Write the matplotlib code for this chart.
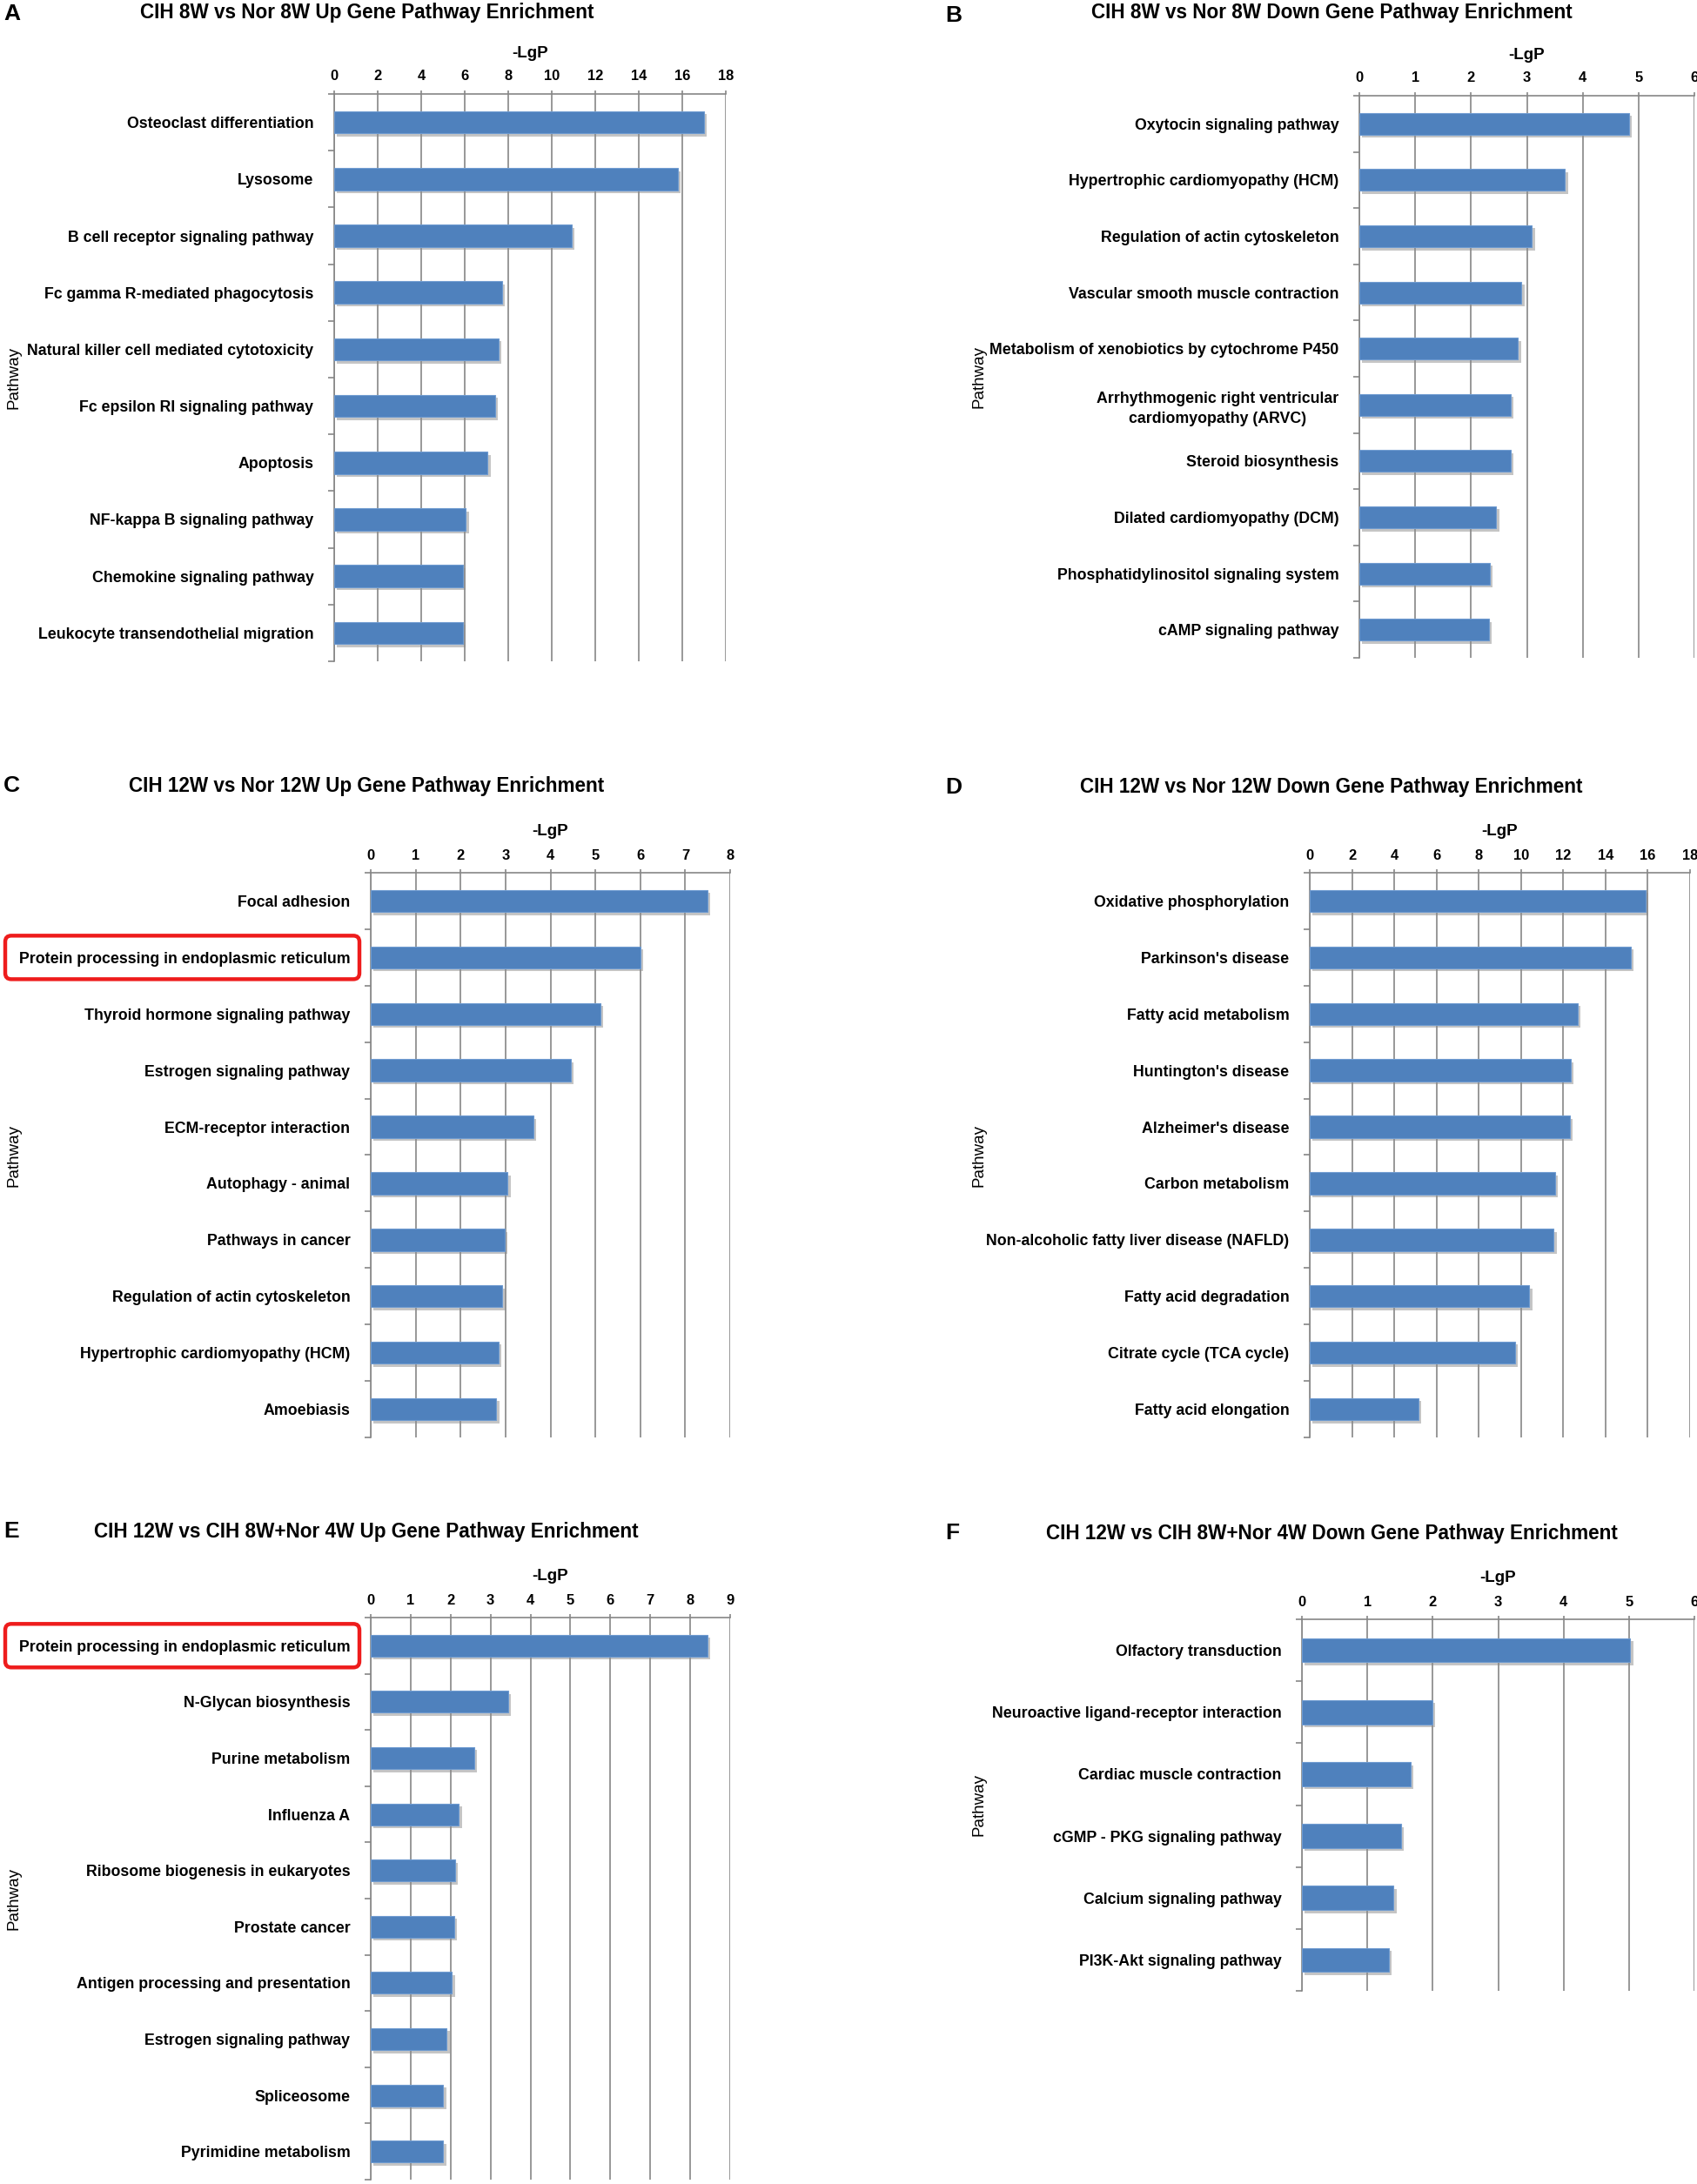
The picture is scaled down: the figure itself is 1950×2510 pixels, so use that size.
import numpy as np
import matplotlib
matplotlib.use('Agg')
import matplotlib.pyplot as plt
import matplotlib.patheffects as pe
from matplotlib import font_manager, transforms
from matplotlib.patches import FancyBboxPatch

# ---- data ----
a_labels = ['Osteoclast differentiation', 'Lysosome', 'B cell receptor signaling pathway',
            'Fc gamma R-mediated phagocytosis', 'Natural killer cell mediated cytotoxicity',
            'Fc epsilon RI signaling pathway', 'Apoptosis', 'NF-kappa B signaling pathway',
            'Chemokine signaling pathway', 'Leukocyte transendothelial migration']
a_vals = [17.0, 15.8, 10.9, 7.7, 7.55, 7.4, 7.05, 6.05, 5.9, 5.9]

b_labels = ['Oxytocin signaling pathway', 'Hypertrophic cardiomyopathy (HCM)',
            'Regulation of actin cytoskeleton', 'Vascular smooth muscle contraction',
            'Metabolism of xenobiotics by cytochrome P450',
            'Arrhythmogenic right ventricular\ncardiomyopathy (ARVC)', 'Steroid biosynthesis',
            'Dilated cardiomyopathy (DCM)', 'Phosphatidylinositol signaling system',
            'cAMP signaling pathway']
b_vals = [4.83, 3.68, 3.09, 2.90, 2.84, 2.71, 2.71, 2.45, 2.33, 2.32]

c_labels = ['Focal adhesion', 'Protein processing in endoplasmic reticulum',
            'Thyroid hormone signaling pathway', 'Estrogen signaling pathway',
            'ECM-receptor interaction', 'Autophagy - animal', 'Pathways in cancer',
            'Regulation of actin cytoskeleton', 'Hypertrophic cardiomyopathy (HCM)', 'Amoebiasis']
c_vals = [7.49, 6.0, 5.11, 4.45, 3.62, 3.05, 2.98, 2.93, 2.84, 2.79]

d_labels = ['Oxidative phosphorylation', "Parkinson's disease", 'Fatty acid metabolism',
            "Huntington's disease", "Alzheimer's disease", 'Carbon metabolism',
            'Non-alcoholic fatty liver disease (NAFLD)', 'Fatty acid degradation',
            'Citrate cycle (TCA cycle)', 'Fatty acid elongation']
d_vals = [15.9, 15.2, 12.67, 12.34, 12.31, 11.6, 11.54, 10.39, 9.72, 5.14]

e_labels = ['Protein processing in endoplasmic reticulum', 'N-Glycan biosynthesis',
            'Purine metabolism', 'Influenza A', 'Ribosome biogenesis in eukaryotes',
            'Prostate cancer', 'Antigen processing and presentation', 'Estrogen signaling pathway',
            'Spliceosome', 'Pyrimidine metabolism']
e_vals = [8.43, 3.44, 2.59, 2.21, 2.11, 2.09, 2.03, 1.90, 1.81, 1.81]

f_labels = ['Olfactory transduction', 'Neuroactive ligand-receptor interaction',
            'Cardiac muscle contraction', 'cGMP - PKG signaling pathway',
            'Calcium signaling pathway', 'PI3K-Akt signaling pathway']
f_vals = [5.02, 1.99, 1.66, 1.51, 1.40, 1.33]

titles = ['CIH 8W vs Nor 8W Up Gene Pathway Enrichment',
          'CIH 8W vs Nor 8W Down Gene Pathway Enrichment',
          'CIH 12W vs Nor 12W Up Gene Pathway Enrichment',
          'CIH 12W vs Nor 12W Down Gene Pathway Enrichment',
          'CIH 12W vs CIH 8W+Nor 4W Up Gene Pathway Enrichment',
          'CIH 12W vs CIH 8W+Nor 4W Down Gene Pathway Enrichment']
letters = ['A', 'B', 'C', 'D', 'E', 'F']
x_max = [18, 6, 8, 18, 9, 6]
x_step = [2, 1, 1, 2, 1, 1]
highlight = [None, None, 1, None, 0, None]

# ---- layout in pixels: (left, top, right, bottom) of each plot area ----
W, H = 1950, 2510
boxes = [(384, 108, 834, 760), (1562, 110, 1947, 756),
         (426, 1003, 839, 1652), (1505, 1003, 1942, 1652),
         (426, 1859, 839, 2505), (1496, 1861, 1947, 2288)]
title_xy = [(422, 14), (1530, 14), (421, 904), (1530, 905), (421, 1760), (1530, 1762)]
letter_xy = [(4, 16), (1086, 18), (4, 903), (1086, 905), (4, 1760), (1086, 1762)]
path_x = [16, 1125, 16, 1125, 16, 1125]

names = {f.name for f in font_manager.fontManager.ttflist}
if 'Liberation Sans Narrow' in names:
    FONT, k = 'Liberation Sans Narrow', 1.0
else:
    FONT, k = 'Liberation Sans', 0.82

BLUE = '#4F81BD'
GRID = '#868686'

fig = plt.figure(figsize=(W / 100, H / 100), dpi=100)

all_labels = [a_labels, b_labels, c_labels, d_labels, e_labels, f_labels]
all_vals = [a_vals, b_vals, c_vals, d_vals, e_vals, f_vals]

for i in range(6):
    l, t, r, b = boxes[i]
    ax = fig.add_axes([l / W, 1 - b / H, (r - l) / W, (b - t) / H])
    vals = all_vals[i]
    n = len(vals)
    y = np.arange(n)
    bars = ax.barh(y, vals, height=0.39, color=BLUE, edgecolor='#6f9bd0', linewidth=0.8, zorder=3)
    for p in bars:
        p.set_path_effects([pe.SimplePatchShadow(offset=(2.5, -2.5), shadow_rgbFace='0.55', alpha=0.5),
                            pe.Normal()])
    ax.set_xlim(0, x_max[i])
    ax.set_ylim(n - 0.5, -0.5)
    ax.xaxis.tick_top()
    ax.set_xticks(np.arange(0, x_max[i] + 0.001, x_step[i]))
    ax.grid(axis='x', color=GRID, linewidth=1.2, zorder=0)
    ax.set_axisbelow(True)
    for s in ['bottom', 'right']:
        ax.spines[s].set_visible(False)
    for s in ['top', 'left']:
        ax.spines[s].set_color(GRID)
        ax.spines[s].set_linewidth(1.2)
    ax.set_yticks(y)
    ax.set_yticklabels(all_labels[i], fontsize=15.6 * k, fontweight='bold', family=FONT,
                       multialignment='center', linespacing=1.45)
    ax.set_yticks(np.arange(-0.5, n), minor=True)
    ax.tick_params(axis='y', which='major', length=0, pad=17)
    ax.tick_params(axis='y', which='minor', length=5, color=GRID, width=1.2)
    ax.tick_params(axis='x', length=3, color=GRID, width=1.2, pad=6)
    for lab in ax.get_xticklabels():
        lab.set_fontweight('bold')
        lab.set_fontsize(14.5 * k)
        lab.set_family(FONT)

    off = transforms.offset_copy(ax.transAxes, fig=fig, y=47, units='dots')
    ax.text(0.5, 1.0, '-LgP', transform=off, ha='center', va='center',
            fontsize=16.5 * k, fontweight='bold', family=FONT)

    tx, ty = title_xy[i]
    fig.text(tx / W, 1 - ty / H, titles[i], ha='center', va='center',
             fontsize=19.8 * k, fontweight='bold', family=FONT)
    lx, ly = letter_xy[i]
    fig.text(lx / W, 1 - ly / H, letters[i], ha='left', va='center',
             fontsize=19, fontweight='bold', family='Liberation Sans')
    fig.text(path_x[i] / W, 1 - ((t + b) / 2) / H, 'Pathway', rotation=90,
             ha='center', va='center', fontsize=13.5, family='Liberation Sans')

    if highlight[i] is not None:
        yc = ax.transData.transform((0, highlight[i]))[1]
        box = FancyBboxPatch((6, yc - 25), 407, 50,
                             boxstyle='round,pad=0,rounding_size=7',
                             transform=transforms.IdentityTransform(),
                             fill=False, edgecolor='#ee1c1c', linewidth=3.2)
        fig.add_artist(box)

fig.savefig('out.png', dpi=100, facecolor='white')
